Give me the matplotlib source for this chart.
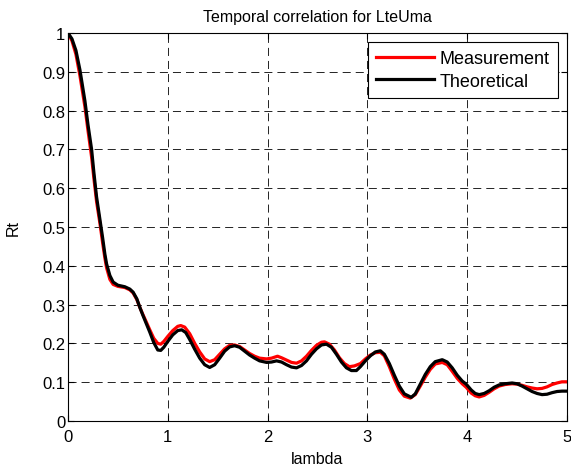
import matplotlib
matplotlib.use('Agg')
from matplotlib import pyplot as plt

plt.rcParams['font.family'] = ['Liberation Sans', 'DejaVu Sans']
plt.rcParams['lines.scale_dashes'] = False

#%% data
lam_theo = [0, 0.04, 0.08, 0.12, 0.17, 0.2, 0.237, 0.26, 0.287, 0.32, 0.347, 0.37, 0.387, 0.42, 0.453,
            0.5, 0.57, 0.62, 0.653, 0.69, 0.72, 0.75, 0.78, 0.82, 0.86, 0.9, 0.93, 0.96, 1.0, 1.05,
            1.1, 1.14, 1.18, 1.22, 1.27, 1.32, 1.37, 1.42, 1.47, 1.52, 1.57, 1.62, 1.67, 1.72, 1.77,
            1.82, 1.87, 1.92, 1.99, 2.04, 2.09, 2.14, 2.19, 2.24, 2.29, 2.34, 2.39, 2.44, 2.49, 2.54,
            2.59, 2.64, 2.69, 2.74, 2.79, 2.84, 2.89, 2.93, 2.98, 3.03, 3.08, 3.13, 3.17, 3.22, 3.27,
            3.32, 3.37, 3.44, 3.48, 3.53, 3.58, 3.63, 3.68, 3.75, 3.8, 3.85, 3.9, 3.95, 3.99, 4.04,
            4.08, 4.12, 4.17, 4.22, 4.27, 4.32, 4.38, 4.45, 4.5, 4.55, 4.6, 4.65, 4.7, 4.75, 4.8,
            4.85, 4.9, 4.95, 5.0]
rt_theo = [1.0, 0.985, 0.955, 0.905, 0.825, 0.765, 0.70, 0.64, 0.577, 0.52, 0.473, 0.43, 0.405, 0.375,
           0.358, 0.35, 0.346, 0.34, 0.332, 0.315, 0.293, 0.273, 0.254, 0.229, 0.202, 0.183, 0.182,
           0.19, 0.205, 0.222, 0.233, 0.235, 0.228, 0.21, 0.185, 0.162, 0.145, 0.138, 0.145, 0.162,
           0.18, 0.191, 0.194, 0.19, 0.18, 0.17, 0.162, 0.155, 0.151, 0.152, 0.155, 0.152, 0.145,
           0.139, 0.137, 0.143, 0.155, 0.172, 0.186, 0.196, 0.198, 0.19, 0.172, 0.152, 0.137, 0.13,
           0.13, 0.14, 0.155, 0.168, 0.178, 0.181, 0.172, 0.148, 0.118, 0.09, 0.07, 0.061, 0.07,
           0.095, 0.12, 0.14, 0.153, 0.158, 0.152, 0.137, 0.118, 0.103, 0.095, 0.08, 0.071, 0.068,
           0.071, 0.078, 0.087, 0.093, 0.096, 0.098, 0.096, 0.09, 0.083, 0.076, 0.071, 0.068, 0.069,
           0.073, 0.076, 0.077, 0.077]

lam_meas = [0, 0.04, 0.08, 0.12, 0.17, 0.2, 0.237, 0.26, 0.287, 0.32, 0.347, 0.37, 0.387, 0.42, 0.453,
            0.5, 0.57, 0.62, 0.653, 0.69, 0.72, 0.75, 0.78, 0.82, 0.86, 0.9, 0.93, 0.96, 1.0, 1.05,
            1.1, 1.13, 1.17, 1.22, 1.27, 1.32, 1.37, 1.42, 1.47, 1.52, 1.57, 1.62, 1.67, 1.72, 1.77,
            1.82, 1.87, 1.92, 1.99, 2.04, 2.1, 2.14, 2.19, 2.24, 2.29, 2.34, 2.39, 2.44, 2.49, 2.54,
            2.57, 2.62, 2.67, 2.72, 2.77, 2.82, 2.87, 2.93, 2.98, 3.03, 3.08, 3.13, 3.17, 3.22, 3.27,
            3.32, 3.37, 3.43, 3.48, 3.53, 3.58, 3.63, 3.68, 3.75, 3.8, 3.85, 3.9, 3.95, 3.99, 4.04,
            4.08, 4.12, 4.17, 4.22, 4.27, 4.32, 4.38, 4.45, 4.5, 4.55, 4.6, 4.65, 4.7, 4.75, 4.8,
            4.85, 4.9, 4.95, 5.0]
rt_meas = [1.0, 0.98, 0.945, 0.89, 0.81, 0.75, 0.68, 0.625, 0.565, 0.51, 0.46, 0.42, 0.395, 0.365,
           0.352, 0.347, 0.344, 0.338, 0.33, 0.313, 0.293, 0.275, 0.258, 0.235, 0.213, 0.2, 0.198,
           0.205, 0.218, 0.233, 0.244, 0.246, 0.242, 0.225, 0.2, 0.178, 0.16, 0.153, 0.158, 0.172,
           0.186, 0.195, 0.196, 0.192, 0.183, 0.174, 0.167, 0.162, 0.16, 0.162, 0.167, 0.163, 0.157,
           0.151, 0.149, 0.155, 0.167, 0.182, 0.195, 0.203, 0.204, 0.198, 0.183, 0.163, 0.148, 0.14,
           0.142, 0.148, 0.16, 0.17, 0.176, 0.177, 0.168, 0.14, 0.108, 0.08, 0.064, 0.059, 0.068,
           0.09, 0.113, 0.133, 0.147, 0.151, 0.145, 0.128, 0.11, 0.096, 0.087, 0.072, 0.065, 0.062,
           0.066, 0.074, 0.083, 0.09, 0.094, 0.096, 0.095, 0.092, 0.088, 0.085, 0.083, 0.084, 0.088,
           0.094, 0.098, 0.101, 0.101]

x_ticks = [0, 1, 2, 3, 4, 5]
y_ticks = [0, 0.1, 0.2, 0.3, 0.4, 0.5, 0.6, 0.7, 0.8, 0.9, 1]
y_tick_labels = ['0', '0.1', '0.2', '0.3', '0.4', '0.5', '0.6', '0.7', '0.8', '0.9', '1']

#%%
fig = plt.figure(figsize=(5.71, 4.77), dpi=100)
ax = fig.add_axes([0.119, 0.1153, 0.874, 0.8134])

ax.plot(lam_meas, rt_meas, color='red', lw=2.3, label='Measurement')
ax.plot(lam_theo, rt_theo, color='black', lw=2.3, label='Theoretical')

ax.set_xlim(0, 5)
ax.set_ylim(0, 1)
ax.set_xticks(x_ticks)
ax.set_yticks(y_ticks)
ax.set_yticklabels(y_tick_labels)
ax.tick_params(direction='in', labelsize=12, length=4, top=True, right=True, pad=2)
ax.tick_params(axis='x', pad=6)
ax.grid(True, color='black', linestyle=(0, (5.8, 3.6)), linewidth=0.6)
for s in ax.spines.values():
    s.set_linewidth(0.8)

ax.set_title('Temporal correlation for LteUma', fontsize=11.5, pad=9)
ax.set_xlabel('lambda', fontsize=11.5, labelpad=5)
ax.set_ylabel('Rt', fontsize=11.5, labelpad=15)

leg = ax.legend(loc='upper right', fontsize=13, fancybox=False, framealpha=1,
                edgecolor='black', handlelength=3.2, borderaxespad=0.5, borderpad=0.45,
                handletextpad=0.35, labelspacing=0.3)
leg.get_frame().set_linewidth(0.8)

plt.savefig('out.png', dpi=100)
